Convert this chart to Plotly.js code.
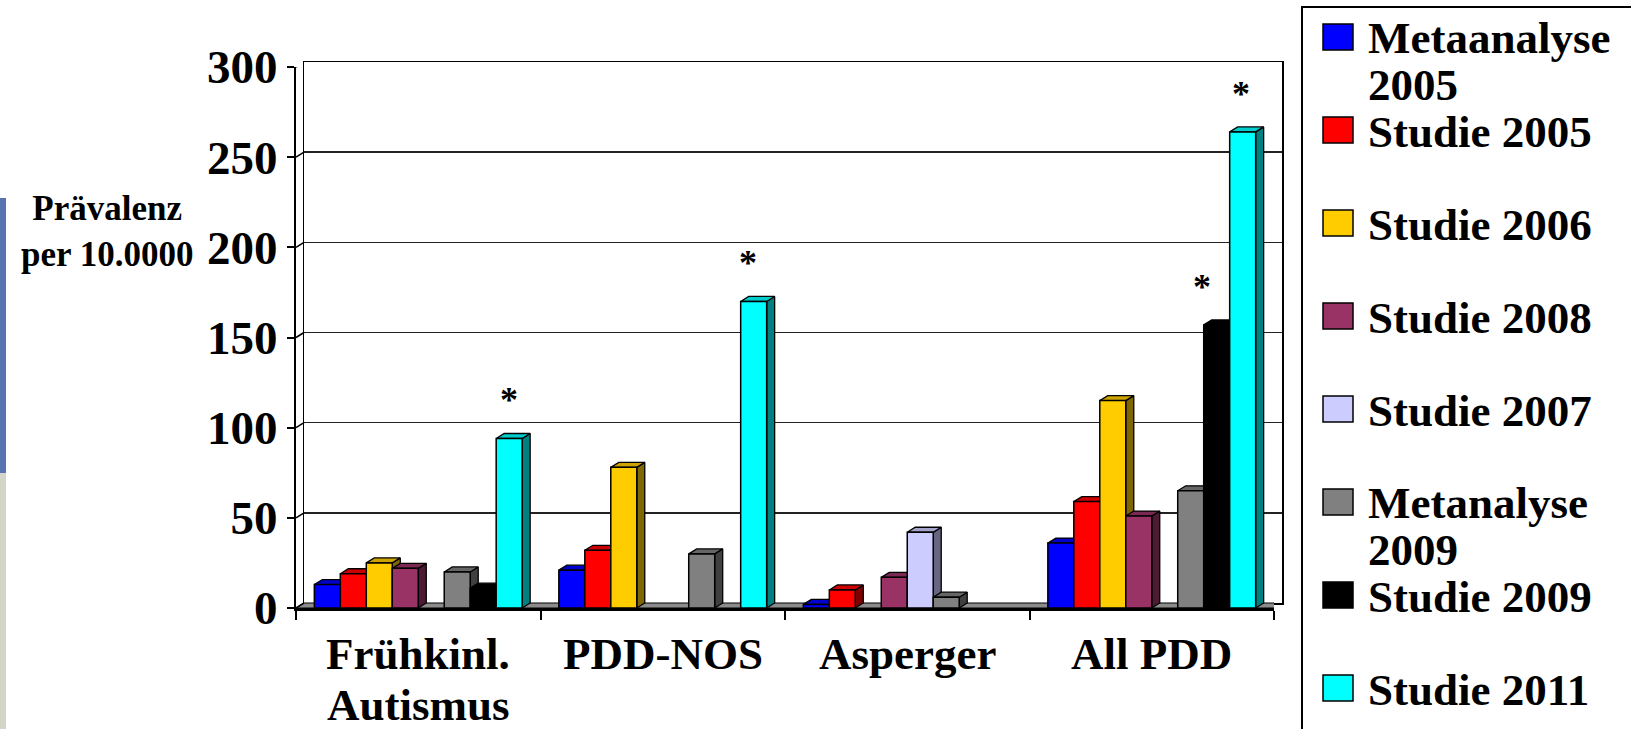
<!DOCTYPE html>
<html>
<head>
<meta charset="utf-8">
<script src="https://cdn.plot.ly/plotly-3.0.1.min.js"></script>
<style>
html,body{margin:0;padding:0;background:#fff;overflow:hidden}
#chart{position:absolute;left:0;top:0;width:1631px;height:729px}
#stripBlue{position:absolute;left:0;top:198px;width:6px;height:275px;background:#5574b0}
#stripGray{position:absolute;left:0;top:473px;width:6px;height:256px;background:#d4d4c8}
</style>
</head>
<body>
<div id="chart"></div>
<div id="stripBlue"></div>
<div id="stripGray"></div>
<script>
// ---- data ----
const categories = ["Frühkinl.<br>Autismus", "PDD-NOS", "Asperger", "All PDD"];
const seriesNames = ["Metaanalyse 2005", "Studie 2005", "Studie 2006", "Studie 2008",
                     "Studie 2007", "Metanalyse 2009", "Studie 2009", "Studie 2011"];
const legendLabels = ["Metaanalyse<br>2005", "Studie 2005", "Studie 2006", "Studie 2008",
                      "Studie 2007", "Metanalyse<br>2009", "Studie 2009", "Studie 2011"];
const metaanalyse2005 = [13, 21, 2, 36];
const studie2005      = [19, 32, 10, 59];
const studie2006      = [25, 78, null, 115];
const studie2008      = [22, null, 17, 51];
const studie2007      = [null, null, 42, null];
const metanalyse2009  = [20, 30, 6, 65];
const studie2009      = [11, null, null, 157];
const studie2011      = [94, 170, null, 264];
const yTicks = [0, 50, 100, 150, 200, 250, 300];
const yTitle = "Prävalenz<br>per 10.0000";
// significance marks (*): category index / series index
const starCategory = [0, 1, 3, 3];
const starSeries   = [7, 7, 6, 7];

// ---- styles ----
const seriesValues = [metaanalyse2005, studie2005, studie2006, studie2008,
                      studie2007, metanalyse2009, studie2009, studie2011];
const seriesColors = ["#0000ff", "#ff0000", "#ffcc00", "#993366",
                      "#ccccff", "#808080", "#000000", "#00ffff"];
const starShiftPx = [0, -6, -15, -2];
const FONT = "Liberation Serif, Times New Roman, serif";

// pixel geometry of the plot frame
const L = 296, R = 349, T = 62, B = 121, W = 1631, H = 729;
const PW = W - L - R, PH = H - T - B;      // paper area
const DXP = 8, DYP = 5;                    // 3D depth offset in px
const frontW = PW - DXP, frontH = PH - DYP;
const Y_MAX = 300;
const BARGAP = 0.15;
const dxU = DXP / (frontW / 4);
const dyU = DYP / (frontH / Y_MAX);
const groupW = 1 - BARGAP, slotW = groupW / seriesValues.length;
const px2fx = px => (px - L) / PW;
const py2fy = py => (H - B - py) / PH;

function shade(hex, f) {
  const n = parseInt(hex.slice(1), 16);
  const r = Math.round(((n >> 16) & 255) * f), g = Math.round(((n >> 8) & 255) * f), b = Math.round((n & 255) * f);
  return "rgb(" + r + "," + g + "," + b + ")";
}
function barLeft(c, s) { return c - groupW / 2 + s * slotW; }

const traces = [];
// dummy trace for back wall subplot
traces.push({type: "scatter", x: [], y: [], xaxis: "x", yaxis: "y", showlegend: false, hoverinfo: "skip"});
// floor
traces.push({
  type: "scatter", mode: "lines", xaxis: "x2", yaxis: "y2", showlegend: false, hoverinfo: "skip",
  x: [-0.5, 3.5, 3.5 + dxU, -0.5 + dxU, -0.5], y: [0, 0, dyU, dyU, 0],
  fill: "toself", fillcolor: "#8c8c8c", line: {color: "#000", width: 1}
});
// 3D side and top faces
seriesValues.forEach((vals, s) => {
  const sx = [], sy = [], tx = [], ty = [];
  vals.forEach((v, c) => {
    if (v === null) return;
    const x0 = barLeft(c, s), x1 = x0 + slotW;
    sx.push(x1, x1 + dxU, x1 + dxU, x1, x1, null);
    sy.push(0, dyU, v + dyU, v, 0, null);
    tx.push(x0, x0 + dxU, x1 + dxU, x1, x0, null);
    ty.push(v, v + dyU, v + dyU, v, v, null);
  });
  traces.push({type: "scatter", mode: "lines", xaxis: "x2", yaxis: "y2", showlegend: false, hoverinfo: "skip",
    x: sx, y: sy, fill: "toself", fillcolor: shade(seriesColors[s], 0.5), line: {color: "#000", width: 1.3}});
  traces.push({type: "scatter", mode: "lines", xaxis: "x2", yaxis: "y2", showlegend: false, hoverinfo: "skip",
    x: tx, y: ty, fill: "toself", fillcolor: shade(seriesColors[s], 0.8), line: {color: "#000", width: 1.3}});
});
// front faces: the bars
seriesValues.forEach((vals, s) => {
  traces.push({
    type: "bar", name: seriesNames[s], x: categories, y: vals, xaxis: "x3", yaxis: "y3",
    marker: {color: seriesColors[s], line: {color: "#000", width: 1.5}}, showlegend: false
  });
});

const shapes = [];
const annotations = [];
// tick connectors from front axis to back wall
yTicks.forEach(v => {
  shapes.push({type: "line", xref: "paper", yref: "y2", x0: 0, x1: DXP / PW, y0: v, y1: v + dyU,
    line: {color: "#000", width: 1.5}});
});
// category labels (Excel-like tight line spacing)
categories.forEach((cat, c) => {
  cat.split("<br>").forEach((ln, j) => {
    annotations.push({xref: "x2", yref: "paper", x: c, y: py2fy(654 + 51 * j), text: ln,
      showarrow: false, xanchor: "center", yanchor: "middle",
      font: {family: FONT, size: 45, weight: "bold", color: "#000"}});
  });
});
// significance asterisks
starCategory.forEach((c, k) => {
  const s = starSeries[k];
  annotations.push({xref: "x2", yref: "y2", x: barLeft(c, s) + slotW / 2, y: seriesValues[s][c],
    text: "*", showarrow: false, xanchor: "center", yanchor: "bottom", yshift: 16, xshift: starShiftPx[k],
    font: {family: FONT, size: 36, weight: "bold", color: "#000"}});
});
// y title
annotations.push({xref: "paper", yref: "paper", x: px2fx(107), y: py2fy(231), text: yTitle,
  showarrow: false, xanchor: "center", yanchor: "middle",
  font: {family: FONT, size: 35, weight: "bold", color: "#000"}});
// custom legend (Excel style slots)
shapes.push({type: "rect", xref: "paper", yref: "paper", x0: px2fx(1302), x1: px2fx(1660),
  y0: py2fy(760), y1: py2fy(7), line: {color: "#000", width: 2}, fillcolor: "rgba(0,0,0,0)"});
const SLOT0 = 37, SLOT = 93, LINE = 47;
legendLabels.forEach((lab, i) => {
  const yc = SLOT0 + SLOT * i;
  const lines = lab.split("<br>");
  const first = lines.length > 1 ? yc + 1 : yc + 2;
  shapes.push({type: "rect", xref: "paper", yref: "paper", x0: px2fx(1323), x1: px2fx(1353),
    y0: py2fy(yc + 13), y1: py2fy(yc - 13), fillcolor: seriesColors[i], line: {color: "#000", width: 1.5}});
  lines.forEach((ln, j) => {
    annotations.push({xref: "paper", yref: "paper", x: px2fx(1366), y: py2fy(first + LINE * j),
      text: ln, showarrow: false, xanchor: "left", yanchor: "middle",
      font: {family: FONT, size: 45, weight: "bold", color: "#000"}});
  });
});

const layout = {
  width: W, height: H,
  margin: {l: L, r: R, t: T, b: B, pad: 0},
  paper_bgcolor: "#fff", plot_bgcolor: "rgba(0,0,0,0)",
  showlegend: false,
  barmode: "group", bargap: BARGAP, bargroupgap: 0,
  // back wall
  xaxis: {domain: [DXP / PW, 1], range: [-0.5, 3.5], anchor: "y", showgrid: false, zeroline: false,
    showticklabels: false, ticks: "", showline: true, mirror: true, linecolor: "#000", linewidth: 1.5},
  yaxis: {domain: [DYP / PH, 1], range: [0, Y_MAX], anchor: "x", tickvals: yTicks, showgrid: true,
    gridcolor: "#222", gridwidth: 1.6, zeroline: false, showticklabels: false, ticks: "",
    showline: true, mirror: true, linecolor: "#000", linewidth: 1.5},
  // faces
  xaxis2: {domain: [0, frontW / PW], range: [-0.5, 3.5], anchor: "y2", visible: false},
  yaxis2: {domain: [0, frontH / PH], range: [0, Y_MAX], anchor: "x2", visible: false},
  // bars + visible axes
  xaxis3: {overlaying: "x2", anchor: "y3", type: "category", categoryorder: "array", categoryarray: categories,
    range: [-0.5, 3.5], tickson: "boundaries", ticks: "outside", ticklen: 9, tickwidth: 2, tickcolor: "#000",
    showline: true, linecolor: "#000", linewidth: 2.5, showgrid: false, showticklabels: false},
  yaxis3: {overlaying: "y2", anchor: "x3", range: [0, Y_MAX], tickvals: yTicks, ticks: "outside", ticklen: 7,
    tickwidth: 2, tickcolor: "#000", showline: true, linecolor: "#000", linewidth: 2, showgrid: false,
    zeroline: false, ticklabelstandoff: 0,
    tickfont: {family: FONT, size: 47, weight: "bold", color: "#000"}},
  shapes: shapes,
  annotations: annotations
};

Plotly.newPlot("chart", traces, layout, {displayModeBar: false, staticPlot: true});
</script>
</body>
</html>
